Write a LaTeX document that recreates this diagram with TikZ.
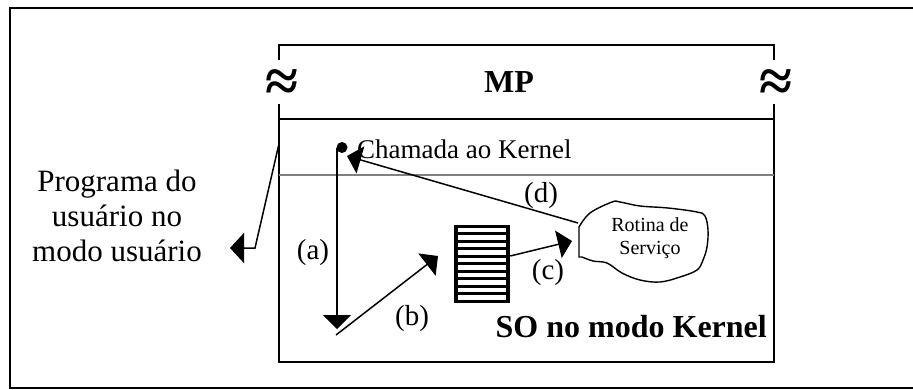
\documentclass[tikz,border=0pt]{standalone}
\usepackage{fontspec}
\setmainfont{Liberation Serif}
\usetikzlibrary{arrows.meta,calc}
\begin{document}
\begin{tikzpicture}[x=1pt,y=-1pt,line join=miter,
  wall/.style={line width=1.6pt},
  conn/.style={line width=1.5pt},
  arr/.style={conn,-{Triangle[width=28pt,length=14pt]}},
  lbl/.style={font=\fontsize{29}{34}\selectfont,inner sep=0pt},
  wave/.style={font=\bfseries\fontsize{60}{60}\selectfont,inner sep=0pt},
  boldtxt/.style={font=\bfseries\fontsize{32}{36}\selectfont,inner sep=0pt}]
\useasboundingbox (0,0) rectangle (913,389);

% outer frame
\draw[line width=2.2pt] (913,8) -- (10,8) -- (10,388) -- (913,388);

% memory block with the break marks
\draw[wall] (278.7,60) -- (278.7,44.7) -- (774,44.7) -- (774,60);
\draw[wall] (278.7,104) -- (278.7,362) -- (774,362) -- (774,104);
\draw[line width=1.3pt] (278.7,119) -- (774,119);
\draw[line width=1.3pt,gray] (278.7,175) -- (774,175);
\node[wave] (wl) at (282,86) {≈};
\node[wave] (wr) at (776,86) {≈};
\node[boldtxt,anchor=base] (mp) at (509,92) {MP};

% system call entry
\node[circle,fill,inner sep=0pt,minimum size=11pt] (dot) at (342,147.5) {};
\node[anchor=base west,inner sep=0pt,font=\fontsize{27}{30}\selectfont] (call) at (357,158) {Chamada ao Kernel};

% user program text and its arrow
\node[align=center,inner sep=0pt,font=\fontsize{31}{35}\selectfont] (user) at (117,216) {Programa do\\usuário no\\modo usuário};
\coordinate (exit) at (278.7,145);
\coordinate (knee) at (255,248);
\coordinate (utip) at (230,248);
\draw[conn,-{Triangle[width=30pt,length=14pt]}] (exit) -- (knee) -- (utip);

% table of routines
\node[fill=black,minimum width=56pt,minimum height=78pt,inner sep=0pt] (queue) at (482,264) {};
\foreach \i [evaluate=\i as \dy using 3+7.5*\i] in {0,...,9}
  \fill[white] ($(queue.north west)+(4,\dy)$) rectangle ++(48,4.5);

% service routine cloud
\draw[line width=1.4pt] (579,257) -- plot[smooth,tension=0.6] coordinates {
  (579,227) (590,213) (612,202) (620,202) (640,206) (668,208) (697,212)
  (705,216) (708,230) (707,247) (703,260) (697,270) (680,277) (660,282)
  (640,280) (622,273) (607,263) (593,261) (582,257)} -- cycle;
\node[align=center,inner sep=0pt,font=\fontsize{20}{23}\selectfont] (svc) at (650,238) {Rotina de\\Serviço};

% numbered steps
\coordinate (atop) at (337,148);
\coordinate (abot) at (337,329);
\draw[arr] (atop) -- (abot);
\coordinate (bfrom) at (336,335);
\coordinate (bto) at (438,256);
\draw[arr] (bfrom) -- (bto);
\coordinate (cto) at (572,241);
\draw[arr] ([yshift=8pt]queue.east) -- (cto);
\coordinate (dfrom) at (578,223);
\coordinate (dto) at (347,156);
\draw[arr] (dfrom) -- (dto);

\node[lbl] (la) at (313,253) {(a)};
\node[lbl] (lb) at (412,319) {(b)};
\node[lbl] (lc) at (548,273) {(c)};
\node[lbl] (ld) at (541,196) {(d)};

\node[boldtxt,anchor=base east] (kern) at (767,337) {SO no modo Kernel};
\end{tikzpicture}
\end{document}
